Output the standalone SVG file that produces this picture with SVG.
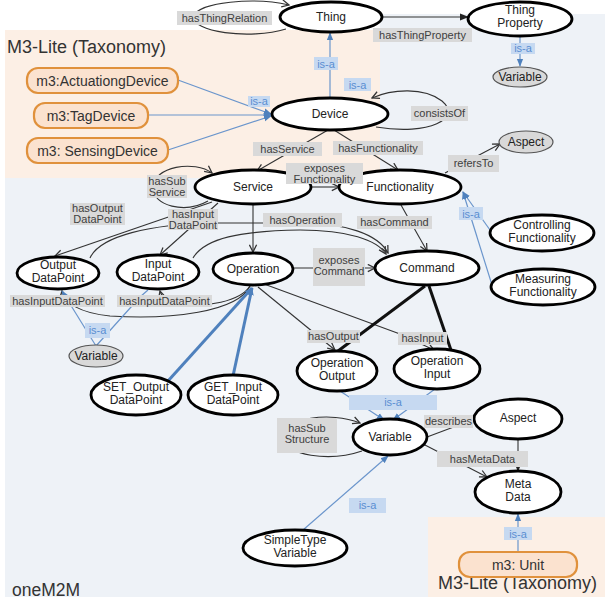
<svg xmlns="http://www.w3.org/2000/svg" width="605" height="606" viewBox="0 0 605 606">
<style>
text{font-family:"Liberation Sans",Arial,sans-serif;}
.n ellipse{fill:#fff;stroke:#000;stroke-width:2.8}
.g ellipse{fill:#d9d9d9;stroke:#555;stroke-width:1.2}
.o rect{fill:#fbe2cf;stroke:#e0913c;stroke-width:2.2}
.t{font-size:12px;fill:#222;text-anchor:middle}
.ot{font-size:14px;fill:#333;text-anchor:middle}
.l rect{fill:#d9d9d9}
.l text{font-size:11px;fill:#404040;text-anchor:middle}
.i rect{fill:#c6d9f1}
.i text{font-size:11px;fill:#5a8ed2;text-anchor:middle}
.e{fill:none;stroke:#333;stroke-width:1.1}
.k{fill:none;stroke:#111;stroke-width:3}
.b{fill:none;stroke:#6a95cc;stroke-width:1.2}
.bb{fill:none;stroke:#4f81bd;stroke-width:3}
.ttl{font-size:18px;fill:#333}
</style>
<defs>
<marker id="av" viewBox="0 0 10 10" refX="9" refY="5" markerWidth="9" markerHeight="9" orient="auto" markerUnits="userSpaceOnUse"><path d="M1,1 L9,5 L1,9" fill="none" stroke="#333" stroke-width="1.4"/></marker>
<marker id="af" viewBox="0 0 10 10" refX="9" refY="5" markerWidth="9" markerHeight="9" orient="auto" markerUnits="userSpaceOnUse"><path d="M0,1 L10,5 L0,9 z" fill="#222"/></marker>
<marker id="ab" viewBox="0 0 10 10" refX="9" refY="5" markerWidth="8" markerHeight="8" orient="auto" markerUnits="userSpaceOnUse"><path d="M0,1 L10,5 L0,9 z" fill="#4f81bd"/></marker>
</defs>
<rect width="605" height="606" fill="#fff"/>
<g id="panels">
<rect x="5" y="30" width="600" height="567" fill="#eef2f7"/>
<rect x="380" y="14" width="225" height="20" fill="#eef2f7"/>
<rect x="5" y="30" width="375" height="148" fill="#fcefe5"/>
<rect x="428" y="517" width="177" height="80" fill="#fcefe5"/>
<text class="ttl" x="7" y="53">M3-Lite (Taxonomy)</text>
<text class="ttl" x="438" y="589">M3-Lite (Taxonomy)</text>
<text x="12" y="596" style="font-size:17.5px;fill:#333">oneM2M</text>
</g>
<g id="connectors">
<path class="e" d="M286,29 C250,40 190,32 194,16 C198,2 255,-3 289,5" marker-end="url(#av)"/>
<path class="e" d="M382,17 L468,17" stroke-width="1.6" marker-end="url(#af)"/>
<path class="b" d="M330,98 L330,33" stroke-width="1.6" marker-end="url(#ab)"/>
<path class="b" d="M520,36 L520,66" marker-end="url(#ab)"/>
<path class="b" d="M178,80 L271,114" marker-end="url(#ab)"/>
<path class="b" d="M148,115 L271,115" stroke-width="1.5" marker-end="url(#ab)"/>
<path class="b" d="M168,150 L271,116" marker-end="url(#ab)"/>
<path class="e" d="M376,127 C430,136 462,118 442,101 C424,87 392,89 372,98" marker-end="url(#av)"/>
<path class="e" d="M328,130 L257,171" marker-end="url(#av)"/>
<path class="e" d="M334,130 L398,170" marker-end="url(#av)"/>
<path class="e" d="M445,173 L500,144" marker-end="url(#av)"/>
<path class="e" d="M311,187 L339,187" marker-end="url(#av)"/>
<path class="e" d="M208,201 C185,214 153,206 153,188 C153,166 195,160 212,173" marker-end="url(#av)"/>
<path class="e" d="M212,202 L55,256" marker-end="url(#av)"/>
<path class="e" d="M218,203 L160,255" marker-end="url(#av)"/>
<path class="e" d="M90,258 C100,236 150,224 215,223 L300,223 C345,223 378,234 388,253" marker-end="url(#av)"/>
<path class="e" d="M193,258 C205,238 240,231 300,230 C348,230 377,240 386,254" marker-end="url(#av)"/>
<path class="e" d="M253,204 L253,252" marker-end="url(#av)"/>
<path class="e" d="M293,268 L375,268" marker-end="url(#av)"/>
<path class="e" d="M401,205 L427,251" marker-end="url(#av)"/>
<path class="b" d="M490,230 L463,192" marker-end="url(#ab)"/>
<path class="b" d="M492,285 L463,192" marker-end="url(#ab)"/>
<path class="e" d="M258,287 L335,350" marker-end="url(#av)"/>
<path class="e" d="M264,284 L400,334 L434,350" marker-end="url(#av)"/>
<path class="k" d="M425,286 L338,351"/>
<path class="k" d="M429,286 L452,353"/>
<path class="e" d="M250,286 C238,312 170,320 110,316 C80,313 64,303 62,291" stroke-width="1.4" marker-end="url(#av)"/>
<path class="e" d="M250,286 C240,302 205,307 182,305 C168,304 162,298 160,291" stroke-width="2.2" marker-end="url(#av)"/>
<path class="b" d="M96,346 L62,291" marker-end="url(#ab)"/>
<path class="b" d="M96,346 L140,297 L148,290"/>
<path class="bb" d="M168,381 L252,288" marker-end="url(#ab)"/>
<path class="bb" d="M233,376 L252,288" marker-end="url(#ab)"/>
<path class="b" d="M340,391 L384,420" marker-end="url(#ab)"/>
<path class="b" d="M435,389 L393,420" marker-end="url(#ab)"/>
<path class="e" d="M362,451 C330,462 284,456 284,437 C284,418 330,411 360,423" marker-end="url(#av)"/>
<path class="e" d="M475,419 L427,437"/>
<path class="e" d="M423,444 L487,477" marker-end="url(#av)"/>
<path class="e" d="M518,440 L518,471" stroke-width="1.5" stroke="#555" marker-end="url(#af)"/>
<path class="b" d="M303,530 L388,456" marker-end="url(#ab)"/>
<path class="b" d="M518,552 L518,514" marker-end="url(#ab)"/>
</g>
<g id="thing" class="n"><ellipse cx="331" cy="17" rx="51" ry="15"/><text class="t" x="331" y="21">Thing</text></g>
<g id="thingProperty" class="n"><ellipse cx="520" cy="19" rx="52" ry="17"/><text class="t" x="520" y="14">Thing</text><text class="t" x="520" y="27">Property</text></g>
<g id="variableTop" class="g"><ellipse cx="520" cy="77" rx="27" ry="10"/><text class="t" x="520" y="81">Variable</text></g>
<g id="device" class="n"><ellipse cx="330" cy="114" rx="58" ry="16"/><text class="t" x="330" y="118">Device</text></g>
<g id="aspectTop" class="g"><ellipse cx="526" cy="142" rx="27" ry="11"/><text class="t" x="526" y="146">Aspect</text></g>
<g id="actuatingDevice" class="o"><rect x="27" y="68" width="151" height="25" rx="11"/><text class="ot" x="102.5" y="86">m3:ActuationgDevice</text></g>
<g id="tagDevice" class="o"><rect x="34" y="103" width="114" height="25" rx="11"/><text class="ot" x="91" y="121">m3:TagDevice</text></g>
<g id="sensingDevice" class="o"><rect x="27" y="138" width="141" height="25" rx="11"/><text class="ot" x="97.5" y="156">m3: SensingDevice</text></g>
<g id="service" class="n"><ellipse cx="253" cy="187" rx="58" ry="17"/><text class="t" x="253" y="191">Service</text></g>
<g id="functionality" class="n"><ellipse cx="400" cy="187" rx="61" ry="17"/><text class="t" x="400" y="191">Functionality</text></g>
<g id="controllingFunctionality" class="n"><ellipse cx="542" cy="233" rx="52" ry="18"/><text class="t" x="542" y="229">Controlling</text><text class="t" x="542" y="242">Functionality</text></g>
<g id="measuringFunctionality" class="n"><ellipse cx="543" cy="287" rx="52" ry="18"/><text class="t" x="543" y="283">Measuring</text><text class="t" x="543" y="296">Functionality</text></g>
<g id="outputDataPoint" class="n"><ellipse cx="58" cy="273" rx="41" ry="16"/><text class="t" x="58" y="269">Output</text><text class="t" x="58" y="282">DataPoint</text></g>
<g id="inputDataPoint" class="n"><ellipse cx="158" cy="272" rx="41" ry="17"/><text class="t" x="158" y="268">Input</text><text class="t" x="158" y="281">DataPoint</text></g>
<g id="operation" class="n"><ellipse cx="253" cy="269" rx="40" ry="16"/><text class="t" x="253" y="273">Operation</text></g>
<g id="command" class="n"><ellipse cx="427" cy="268" rx="52" ry="17"/><text class="t" x="427" y="272">Command</text></g>
<g id="variableLeft" class="g"><ellipse cx="96" cy="356" rx="27" ry="11"/><text class="t" x="96" y="360">Variable</text></g>
<g id="operationOutput" class="n"><ellipse cx="337" cy="371" rx="40" ry="20"/><text class="t" x="337" y="367">Operation</text><text class="t" x="337" y="380">Output</text></g>
<g id="operationInput" class="n"><ellipse cx="437" cy="369" rx="43" ry="20"/><text class="t" x="437" y="365">Operation</text><text class="t" x="437" y="378">Input</text></g>
<g id="setOutputDataPoint" class="n"><ellipse cx="136" cy="395" rx="45" ry="20"/><text class="t" x="136" y="391">SET_Output</text><text class="t" x="136" y="404">DataPoint</text></g>
<g id="getInputDataPoint" class="n"><ellipse cx="233" cy="395" rx="45" ry="20"/><text class="t" x="233" y="391">GET_Input</text><text class="t" x="233" y="404">DataPoint</text></g>
<g id="aspect" class="n"><ellipse cx="518" cy="419" rx="44" ry="20"/><text class="t" x="518" y="422">Aspect</text></g>
<g id="variable" class="n"><ellipse cx="390" cy="437" rx="37" ry="18"/><text class="t" x="390" y="441">Variable</text></g>
<g id="metaData" class="n"><ellipse cx="518" cy="492" rx="43" ry="21"/><text class="t" x="518" y="488">Meta</text><text class="t" x="518" y="501">Data</text></g>
<g id="simpleTypeVariable" class="n"><ellipse cx="295" cy="548" rx="52" ry="18"/><text class="t" x="295" y="544">SimpleType</text><text class="t" x="295" y="557">Variable</text></g>
<g id="unit" class="o"><rect x="459" y="552" width="118" height="25" rx="11"/><text class="ot" x="518" y="570">m3: Unit</text></g>
<g id="edge-labels">
<g class="l"><rect x="177" y="11" width="95" height="14"/><text x="224.5" y="22">hasThingRelation</text></g>
<g class="l"><rect x="373" y="28" width="99" height="14"/><text x="422.5" y="39">hasThingProperty</text></g>
<g class="i"><rect x="314" y="57" width="24" height="13"/><text x="326" y="67.5">is-a</text></g>
<g class="i"><rect x="344" y="78" width="27" height="13"/><text x="357.5" y="88.5">is-a</text></g>
<g class="i"><rect x="511" y="43" width="24" height="11"/><text x="523" y="52">is-a</text></g>
<g class="l"><rect x="411" y="106" width="57" height="15"/><text x="439.5" y="117">consistsOf</text></g>
<g class="i"><rect x="248" y="96" width="22" height="11"/><text x="259" y="105">is-a</text></g>
<g class="l"><rect x="253" y="142" width="69" height="14"/><text x="287.5" y="153">hasService</text></g>
<g class="l"><rect x="333" y="141" width="90" height="14"/><text x="378" y="152">hasFunctionality</text></g>
<g class="l"><rect x="448" y="155" width="51" height="17"/><text x="473.5" y="167">refersTo</text></g>
<g class="l"><rect x="286" y="163" width="77" height="21"/><text x="324.5" y="172">exposes</text><text x="324.5" y="183">Functionality</text></g>
<g class="l"><rect x="147" y="175" width="40" height="23"/><text x="167" y="185">hasSub</text><text x="167" y="196">Service</text></g>
<g class="l"><rect x="70" y="203" width="55" height="22"/><text x="97.5" y="212">hasOutput</text><text x="97.5" y="223">DataPoint</text></g>
<g class="l"><rect x="168" y="209" width="50" height="21"/><text x="193" y="218">hasInput</text><text x="193" y="229">DataPoint</text></g>
<g class="l"><rect x="263" y="213" width="79" height="14"/><text x="302.5" y="224">hasOperation</text></g>
<g class="l"><rect x="357" y="216" width="75" height="13"/><text x="394.5" y="226">hasCommand</text></g>
<g class="i"><rect x="459" y="207" width="24" height="13"/><text x="471" y="217.5">is-a</text></g>
<g class="l"><rect x="313" y="248" width="52" height="38"/><text x="339" y="264">exposes</text><text x="339" y="275">Command</text></g>
<g class="l"><rect x="10" y="295" width="95" height="12"/><text x="57.5" y="305">hasInputDataPoint</text></g>
<g class="l"><rect x="117" y="295" width="95" height="12"/><text x="164.5" y="305">hasInputDataPoint</text></g>
<g class="i"><rect x="85" y="323" width="25" height="15"/><text x="97.5" y="334">is-a</text></g>
<g class="l"><rect x="307" y="330" width="53" height="13"/><text x="333.5" y="340">hasOutput</text></g>
<g class="l"><rect x="398" y="332" width="49" height="13"/><text x="422.5" y="342">hasInput</text></g>
<g class="i"><rect x="349" y="395" width="88" height="15"/><text x="393" y="406">is-a</text></g>
<g class="l"><rect x="424" y="415" width="49" height="13"/><text x="448.5" y="425">describes</text></g>
<g class="l"><rect x="277" y="418" width="60" height="35"/><text x="307" y="432">hasSub</text><text x="307" y="443">Structure</text></g>
<g class="l"><rect x="437" y="451" width="91" height="16"/><text x="482.5" y="463">hasMetaData</text></g>
<g class="i"><rect x="349" y="498" width="37" height="15"/><text x="367.5" y="509">is-a</text></g>
<g class="i"><rect x="504" y="527" width="28" height="13"/><text x="518" y="537.5">is-a</text></g>
</g>
</svg>
